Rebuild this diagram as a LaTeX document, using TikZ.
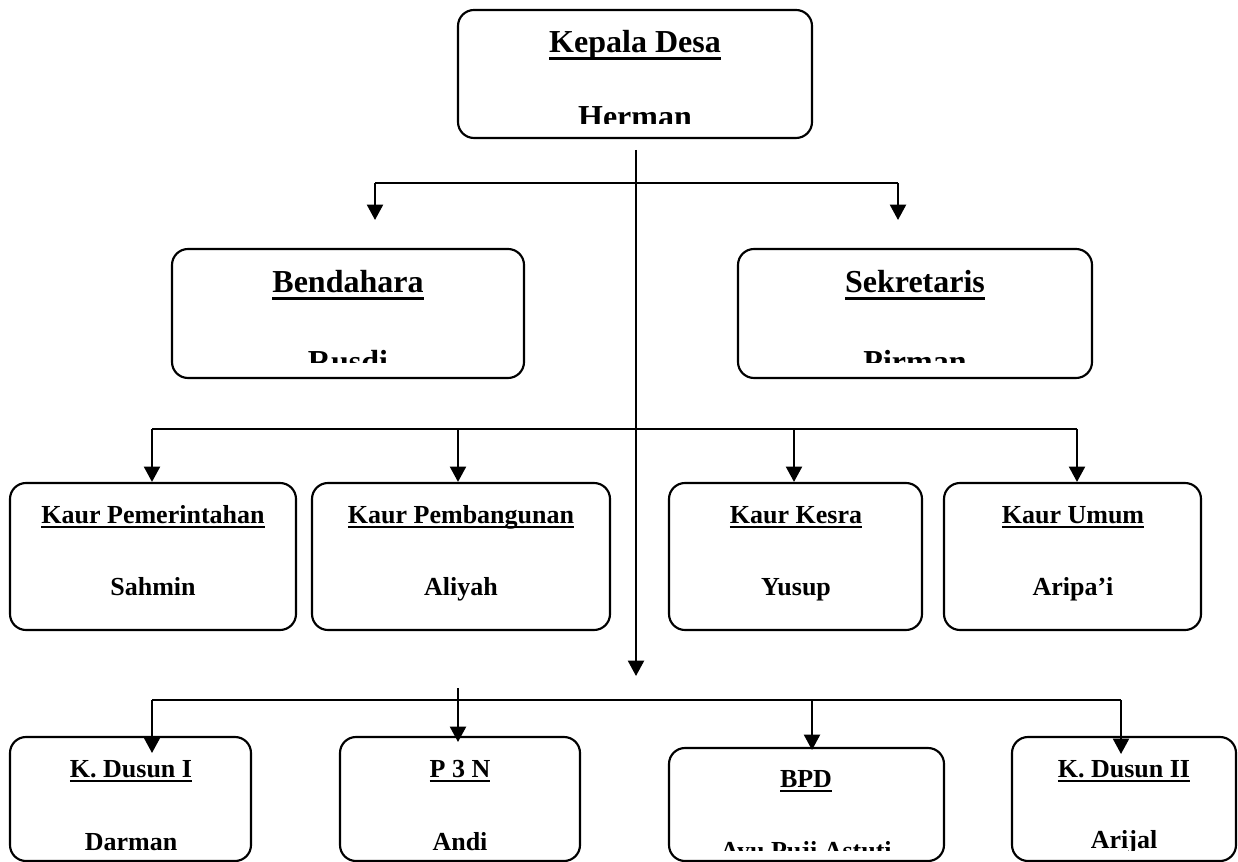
\documentclass[tikz,border=0pt]{standalone}
\usepackage{fontspec}
\setmainfont{Liberation Serif}
\newcommand\myul[1]{\setbox0\hbox{#1}\rlap{\vrule width\wd0 height -0.13em depth 0.21em}\box0}
\usetikzlibrary{arrows.meta,fit}
\tikzset{
  orgbox/.style={draw, line width=1.6pt, rounded corners=12pt, inner sep=0pt},
  bigt/.style={anchor=base, inner sep=0pt, font=\bfseries\fontsize{24}{28}\selectfont},
  smallt/.style={anchor=base, inner sep=0pt, font=\bfseries\fontsize{19.5}{23}\selectfont},
  conn/.style={line width=1.6pt},
  arr/.style={conn, -{Triangle[width=12pt,length=11.5pt]}},
}
\begin{document}
\begin{tikzpicture}[x=0.75pt,y=-0.75pt]
\useasboundingbox (0,0) rectangle (1238,862);

% ---------- boxes ----------
\node[orgbox, fit={(458,10) (812,138)}] (kd) {};
\node[orgbox, fit={(172,249) (524,378)}] (bend) {};
\node[orgbox, fit={(738,249) (1092,378)}] (sek) {};
\node[orgbox, fit={(10,483) (296,630)}] (kpem) {};
\node[orgbox, fit={(312,483) (610,630)}] (kpb) {};
\node[orgbox, fit={(669,483) (922,630)}] (kkes) {};
\node[orgbox, fit={(944,483) (1201,630)}] (kum) {};
\node[orgbox, fit={(10,737) (251,861)}] (kd1) {};
\node[orgbox, fit={(340,737) (580,861)}] (p3n) {};
\node[orgbox, fit={(669,748) (944,861)}] (bpd) {};
\node[orgbox, fit={(1012,737) (1236,861)}] (kd2) {};

% ---------- titles ----------
\node[bigt] (kdt) at (635,53) {\myul{Kepala Desa}};
\node[bigt] (bendt) at (348,293) {\myul{Bendahara}};
\node[bigt] (sekt) at (915,293) {\myul{Sekretaris}};
\node[smallt] (kpemt) at (153,523) {\myul{Kaur Pemerintahan}};
\node[smallt] (kpbt) at (461,523) {\myul{Kaur Pembangunan}};
\node[smallt] (kkest) at (796,523) {\myul{Kaur Kesra}};
\node[smallt] (kumt) at (1073,523) {\myul{Kaur Umum}};
\node[smallt] (kd1t) at (131,777) {\myul{K. Dusun I}};
\node[smallt] (p3nt) at (460,777) {\myul{P 3 N}};
\node[smallt] (bpdt) at (806,787) {\myul{BPD}};
\node[smallt] (kd2t) at (1124,777) {\myul{K. Dusun II}};

% ---------- names ----------
\begin{scope}
  \clip (458,10) rectangle (812,124);
  \node[bigt] (kdn) at (635,128) {Herman};
\end{scope}
\begin{scope}
  \clip (172,249) rectangle (524,363);
  \node[bigt] (bendn) at (348,373) {Rusdi};
\end{scope}
\begin{scope}
  \clip (738,249) rectangle (1092,363);
  \node[bigt] (sekn) at (915,373) {Pirman};
\end{scope}
\node[smallt] (kpemn) at (153,595) {Sahmin};
\node[smallt] (kpbn) at (461,595) {Aliyah};
\node[smallt] (kkesn) at (796,595) {Yusup};
\node[smallt] (kumn) at (1073,595) {Aripa'i};
\node[smallt] (kd1n) at (131,850) {Darman};
\node[smallt] (p3nn) at (460,850) {Andi};
\begin{scope}
  \clip (669,748) rectangle (944,850);
  \node[smallt] (bpdn) at (806,859) {Ayu Puji Astuti};
\end{scope}
\begin{scope}
  \clip (1012,737) rectangle (1236,850);
  \node[smallt] (kd2n) at (1124,848) {Arijal};
\end{scope}

% ---------- connectors ----------
\coordinate (c0) at (636,150);
\coordinate (c1) at (636,676);
\draw[arr] (c0) -- (c1);

\coordinate (tL) at (375,183);
\coordinate (tR) at (898,183);
\coordinate (tLe) at (375,220);
\coordinate (tRe) at (898,220);
\draw[conn] (tL) -- (tR);
\draw[arr] (tL) -- (tLe);
\draw[arr] (tR) -- (tRe);

\coordinate (k1) at (152,429);
\coordinate (k2) at (458,429);
\coordinate (k3) at (794,429);
\coordinate (k4) at (1077,429);
\draw[conn] (k1) -- (k4);
\draw[arr] (k1) -- (k1 |- kpem.north);
\draw[arr] (k2) -- (k2 |- kpb.north);
\draw[arr] (k3) -- (k3 |- kkes.north);
\draw[arr] (k4) -- (k4 |- kum.north);

\coordinate (b1) at (152,700);
\coordinate (b2) at (458,688);
\coordinate (b3) at (812,700);
\coordinate (b4) at (1121,700);
\coordinate (b1e) at (152,753);
\coordinate (b2e) at (458,742);
\coordinate (b3e) at (812,750);
\coordinate (b4e) at (1121,754);
\draw[conn] (b1) -- (b4);
\draw[arr] (b1) -- (b1e);
\draw[arr] (b2) -- (b2e);
\draw[arr] (b3) -- (b3e);
\draw[arr] (b4) -- (b4e);
\end{tikzpicture}
\end{document}
